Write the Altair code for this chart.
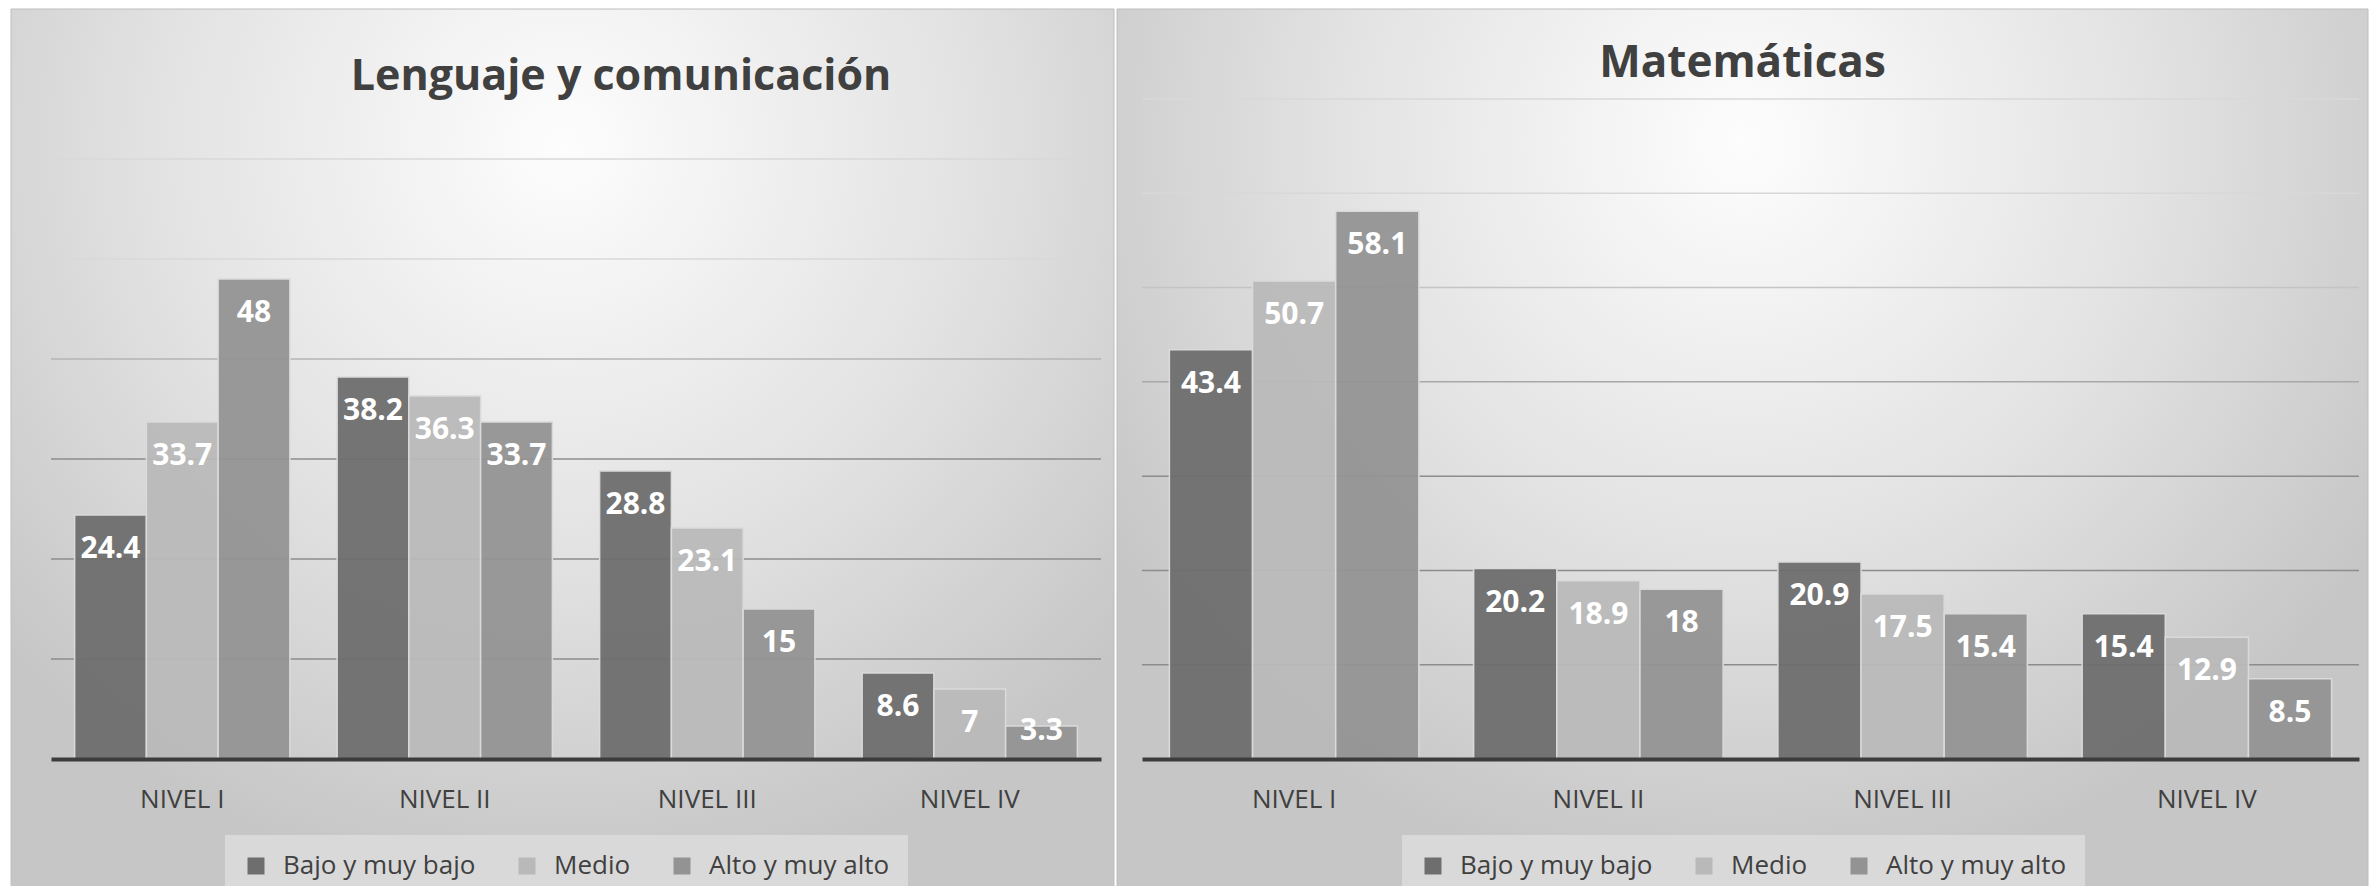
import altair as alt
import pandas as pd

niveles = ["NIVEL I", "NIVEL II", "NIVEL III", "NIVEL IV"]
grupos = ["Bajo y muy bajo", "Medio", "Alto y muy alto"]

leng_bajo = [24.4, 38.2, 28.8, 8.6]
leng_medio = [33.7, 36.3, 23.1, 7]
leng_alto = [48, 33.7, 15, 3.3]

mat_bajo = [43.4, 20.2, 20.9, 15.4]
mat_medio = [50.7, 18.9, 17.5, 12.9]
mat_alto = [58.1, 18, 15.4, 8.5]

leng_grid = [10, 20, 30, 40, 50, 60]
mat_grid = [10, 20, 30, 40, 50, 60, 70]

colores = ["#6e6e6e", "#b9b9b9", "#939393"]
FONT = "Open Sans"
TXT = "#404040"


def table(series):
    rows = []
    for g, vals in zip(grupos, series):
        for n, v in zip(niveles, vals):
            rows.append({"nivel": n, "grupo": g, "valor": v})
    return pd.DataFrame(rows)


def gradient(cy, r):
    return {
        "gradient": "radial",
        "x1": 0.5, "y1": cy, "r1": 0,
        "x2": 0.5, "y2": cy, "r2": r,
        "stops": [
            {"offset": 0, "color": "#fdfdfd"},
            {"offset": 0.55, "color": "#e2e2e2"},
            {"offset": 1, "color": "#c6c6c6"},
        ],
    }


def panel(title, df, grid_vals, ymax, width, height, bg_x, bg_x2, grad,
          title_dx, title_offset, title_size, legend_x, grid_expr):
    yscale = alt.Scale(domain=[0, ymax], nice=False, zero=True)
    X = alt.X(
        "nivel:N", sort=niveles,
        scale=alt.Scale(paddingInner=0.18, paddingOuter=0.09),
        axis=alt.Axis(title=None, labelAngle=0, ticks=False, tickSize=0,
                      domainColor="#3c3c3c", domainWidth=4, labelFontSize=26,
                      labelColor=TXT, labelFont=FONT, labelPadding=27,
                      grid=False, zindex=1),
    )
    XO = alt.XOffset("grupo:N", sort=grupos,
                     scale=alt.Scale(paddingInner=0, paddingOuter=0))

    bg = alt.Chart(pd.DataFrame({"k": [0]})).mark_rect(
        fill=grad, stroke="#bdbdbd", strokeWidth=1
    ).encode(x=alt.value(bg_x), x2=alt.value(bg_x2),
             y=alt.value(-90), y2=alt.value(800))

    grid = alt.Chart(pd.DataFrame({"v": grid_vals})).transform_calculate(
        tone=grid_expr
    ).mark_rule(strokeWidth=1.5).encode(
        y=alt.Y("v:Q", scale=yscale, axis=None),
        stroke=alt.Stroke("tone:N", scale=None, legend=None),
    )

    bars = alt.Chart(df).mark_bar(
        stroke="#dadada", strokeWidth=1.5, fillOpacity=0.95
    ).encode(
        x=X, xOffset=XO,
        y=alt.Y("valor:Q", scale=yscale, axis=None),
        color=alt.Color(
            "grupo:N", sort=grupos,
            scale=alt.Scale(domain=grupos, range=colores),
            legend=alt.Legend(
                title=None, orient="none", legendX=legend_x, legendY=736,
                direction="horizontal", symbolType="square", symbolSize=289,
                symbolStrokeWidth=0, labelFontSize=26, labelColor=TXT,
                labelFont=FONT, fillColor="#d9d9d9", padding=18,
                columnPadding=38, labelOffset=14, labelLimit=500,
            ),
        ),
    )

    labels = alt.Chart(df).transform_calculate(
        lab="max(datum.valor, 6.2)"
    ).mark_text(
        color="white", fontWeight="bold", fontSize=30, font=FONT,
        baseline="middle", dy=34,
    ).encode(
        x=X, xOffset=XO,
        y=alt.Y("lab:Q", scale=yscale, axis=None),
        text=alt.Text("valor:Q", format=".1~f"),
    )

    return alt.layer(bg, grid, bars, labels).properties(
        width=width, height=height,
        title=alt.Title(
            title, fontSize=title_size, font=FONT, fontWeight="bold",
            color=TXT, anchor="middle", frame="group", dx=title_dx,
            offset=title_offset, baseline="alphabetic",
        ),
    )


left = panel(
    "Lenguaje y comunicación", table([leng_bajo, leng_medio, leng_alto]),
    leng_grid, 66, 1050, 660, -40, 1063, gradient(0.22, 0.68),
    45, -124, 43, 174,
    "datum.v >= 50 ? '#d8d8d8' : datum.v >= 40 ? '#b4b4b4' : '#8c8c8c'",
)

right = panel(
    "Matemáticas", table([mat_bajo, mat_medio, mat_alto]),
    mat_grid, 70, 1217, 660, -25, 1226, gradient(0.25, 0.6),
    -8, -112, 44, 260,
    "datum.v >= 60 ? '#d8d8d8' : datum.v >= 50 ? '#c4c4c4' : datum.v >= 40 ? '#a8a8a8' : '#8c8c8c'",
)

chart = alt.hconcat(left, right, spacing=1).resolve_scale(
    color="independent", y="independent", x="independent",
    xOffset="independent", stroke="independent",
).resolve_legend(color="independent").properties(
    padding={"left": 2, "top": 0, "right": 0, "bottom": 0},
    background="white",
).configure_view(stroke=None)

chart.save("out.html", embed_options={"renderer": "svg", "actions": False})
